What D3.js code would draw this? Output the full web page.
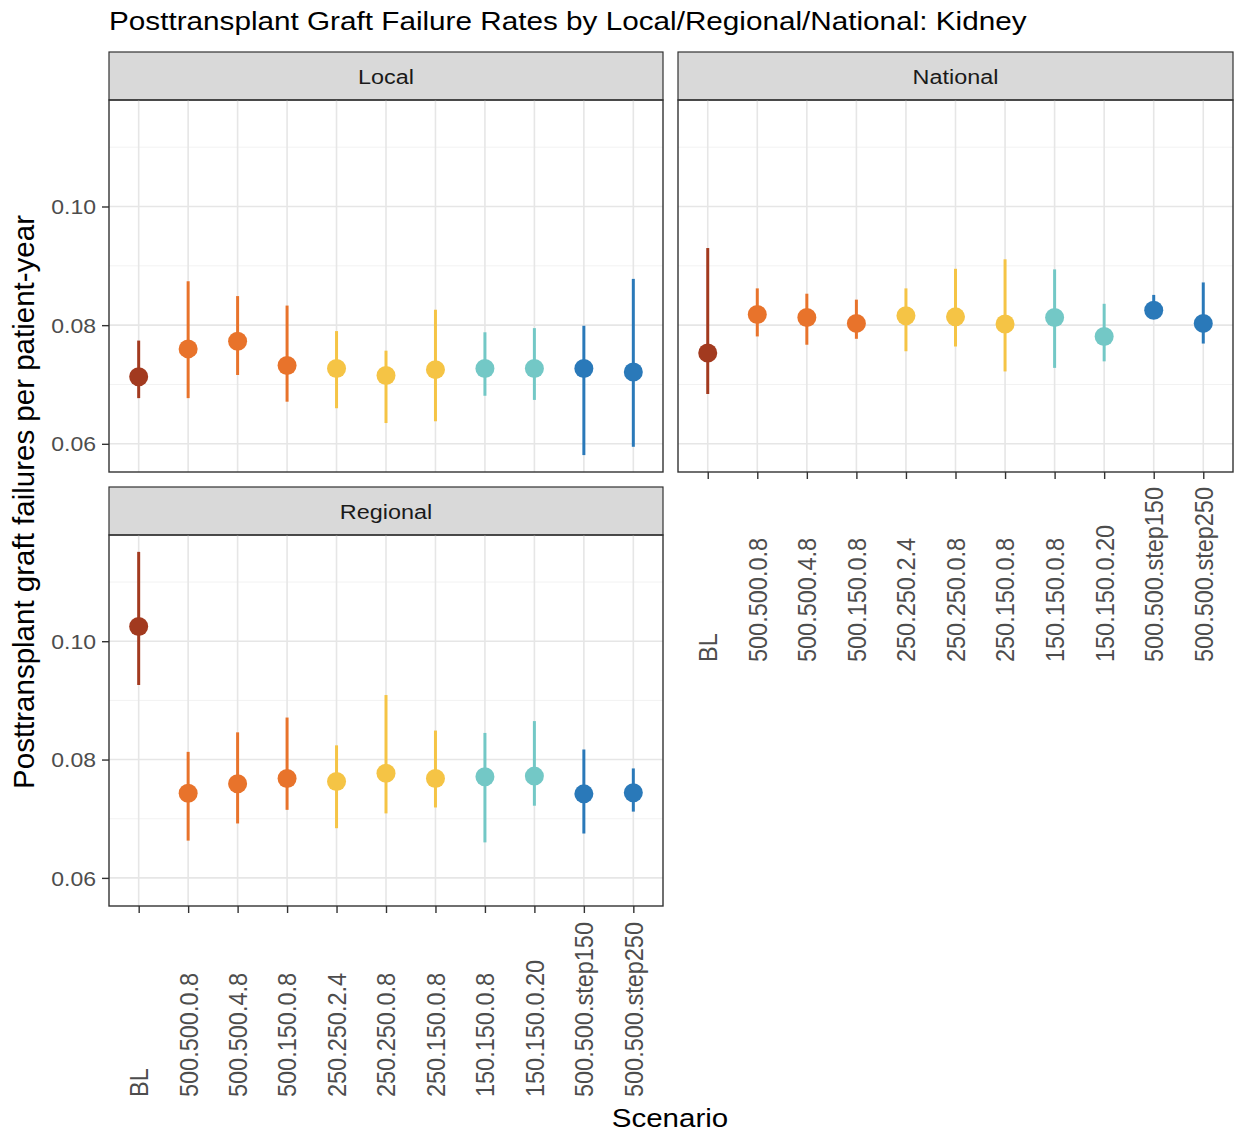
<!DOCTYPE html>
<html><head><meta charset="utf-8">
<script src="https://cdn.jsdelivr.net/npm/d3@7"></script>
<style>body{margin:0;background:#fff}svg{display:block}text{font-family:"Liberation Sans",Arial,sans-serif}</style>
</head><body>
<script>
const scenarios = ["BL","500.500.0.8","500.500.4.8","500.150.0.8","250.250.2.4","250.250.0.8","250.150.0.8","150.150.0.8","150.150.0.20","500.500.step150","500.500.step250"];
const groups = ["BL","500","500","500","250","250","250","150","150","step","step"];
const groupColors = {BL:"#a23a1f","500":"#e8732b","250":"#f5c445","150":"#73c8c6",step:"#2a79b9"};
const panels = ["Local","National","Regional"];
const localMean = [0.0713,0.0760,0.0773,0.0732,0.0727,0.0715,0.0725,0.0727,0.0727,0.0727,0.0721];
const localLow  = [0.0677,0.0677,0.0716,0.0671,0.0660,0.0635,0.0638,0.0681,0.0674,0.0581,0.0595];
const localHigh = [0.0774,0.0874,0.0849,0.0833,0.0790,0.0757,0.0826,0.0788,0.0795,0.0799,0.0878];
const nationalMean = [0.0753,0.0818,0.0813,0.0803,0.0816,0.0814,0.0802,0.0813,0.0781,0.0825,0.0803];
const nationalLow  = [0.0684,0.0781,0.0767,0.0777,0.0756,0.0764,0.0722,0.0728,0.0739,0.0812,0.0769];
const nationalHigh = [0.0930,0.0862,0.0853,0.0843,0.0862,0.0895,0.0911,0.0894,0.0836,0.0851,0.0872];
const regionalMean = [0.1025,0.0743,0.0759,0.0768,0.0763,0.0777,0.0768,0.0771,0.0772,0.0742,0.0744];
const regionalLow  = [0.0926,0.0663,0.0692,0.0715,0.0684,0.0709,0.0719,0.0660,0.0722,0.0675,0.0712];
const regionalHigh = [0.1151,0.0813,0.0846,0.0871,0.0824,0.0909,0.0849,0.0845,0.0865,0.0817,0.0785];
const yTicks = [0.06,0.08,0.10];
const yMinor = [0.07,0.09,0.11];
const titleText = "Posttransplant Graft Failure Rates by Local/Regional/National: Kidney";
const yTitle = "Posttransplant graft failures per patient-year";
const xTitle = "Scenario";

const data = {
  Local: scenarios.map((s,i)=>({s,g:groups[i],m:localMean[i],lo:localLow[i],hi:localHigh[i]})),
  National: scenarios.map((s,i)=>({s,g:groups[i],m:nationalMean[i],lo:nationalLow[i],hi:nationalHigh[i]})),
  Regional: scenarios.map((s,i)=>({s,g:groups[i],m:regionalMean[i],lo:regionalLow[i],hi:regionalHigh[i]}))
};

const W=1236,H=1133;
const SY=0.86;
const svg=d3.select("body").append("svg").attr("width",W).attr("height",H);

const layout = {
  Local:{x0:109,x1:663,y0:100,y1:472,showX:false,showY:true,labBottom:0},
  National:{x0:678,x1:1233,y0:100,y1:472,showX:true,showY:false,labBottom:662},
  Regional:{x0:109,x1:663,y0:535,y1:906,showX:true,showY:true,labBottom:1097}
};
const stripH=48;

const allLo=d3.min(panels,p=>d3.min(data[p],d=>d.lo));
const allHi=d3.max(panels,p=>d3.max(data[p],d=>d.hi));
const pad=(allHi-allLo)*0.05;
const yDomain=[allLo-pad,allHi+pad];

svg.append("text").attr("transform",`translate(109,29.5) scale(1,${SY})`).attr("font-size",29.7).attr("fill","#000").text(titleText);

panels.forEach(p=>{
  const L=layout[p];
  const x=d3.scalePoint().domain(scenarios).range([L.x0,L.x1]).padding(0.6);
  const y=d3.scaleLinear().domain(yDomain).range([L.y1,L.y0]);
  const g=svg.append("g");
  g.append("rect").attr("x",L.x0).attr("y",L.y0-stripH).attr("width",L.x1-L.x0).attr("height",stripH)
    .attr("fill","#d9d9d9").attr("stroke","#333").attr("stroke-width",1.2);
  g.append("text").attr("transform",`translate(${(L.x0+L.x1)/2},${L.y0-stripH/2+1}) scale(1,${SY})`).attr("dy","0.35em").attr("text-anchor","middle")
    .attr("font-size",23.4).attr("fill","#1a1a1a").text(p);
  g.selectAll(".minor").data(yMinor).join("line").attr("x1",L.x0).attr("x2",L.x1)
    .attr("y1",d=>y(d)).attr("y2",d=>y(d)).attr("stroke","#f2f2f2").attr("stroke-width",1);
  g.selectAll(".major").data(yTicks).join("line").attr("x1",L.x0).attr("x2",L.x1)
    .attr("y1",d=>y(d)).attr("y2",d=>y(d)).attr("stroke","#e6e6e6").attr("stroke-width",1.6);
  g.selectAll(".vg").data(scenarios).join("line").attr("x1",d=>x(d)).attr("x2",d=>x(d))
    .attr("y1",L.y0).attr("y2",L.y1).attr("stroke","#e6e6e6").attr("stroke-width",1.6);
  g.selectAll(".eb").data(data[p]).join("line").attr("x1",d=>x(d.s)).attr("x2",d=>x(d.s))
    .attr("y1",d=>y(d.lo)).attr("y2",d=>y(d.hi)).attr("stroke",d=>groupColors[d.g]).attr("stroke-width",3);
  g.selectAll(".pt").data(data[p]).join("circle").attr("cx",d=>x(d.s)).attr("cy",d=>y(d.m)).attr("r",9.5)
    .attr("fill",d=>groupColors[d.g]);
  g.append("rect").attr("x",L.x0).attr("y",L.y0).attr("width",L.x1-L.x0).attr("height",L.y1-L.y0)
    .attr("fill","none").attr("stroke","#333").attr("stroke-width",1.4);
  if(L.showY){
    const ax=g.append("g").attr("transform",`translate(${L.x0},0)`)
      .call(d3.axisLeft(y).tickValues(yTicks).tickFormat(d3.format(".2f")).tickSize(7).tickPadding(6));
    ax.select(".domain").remove();
    ax.selectAll("line").attr("stroke","#333").attr("stroke-width",1.4);
    ax.selectAll("text").attr("font-size",23).attr("fill","#4d4d4d").attr("dy","0.36em")
      .attr("transform",`scale(1,${SY})`).style("font-family","Liberation Sans, Arial, sans-serif");
  }
  if(L.showX){
    const ax=g.append("g").attr("transform",`translate(0,${L.y1})`)
      .call(d3.axisBottom(x).tickSize(7));
    ax.select(".domain").remove();
    ax.selectAll("line").attr("stroke","#333").attr("stroke-width",1.4);
    ax.selectAll("text").attr("font-size",23.5).attr("fill","#4d4d4d").style("font-family","Liberation Sans, Arial, sans-serif")
      .attr("text-anchor","start").attr("dy","0.35em")
      .attr("transform",`translate(0,${L.labBottom-L.y1}) rotate(-90) scale(1,1.08)`).attr("x",0).attr("y",0);
  }
});

svg.append("text").attr("transform",`translate(33.5,502) rotate(-90)`).attr("text-anchor","middle")
  .attr("font-size",29.5).attr("fill","#000").text(yTitle);
svg.append("text").attr("transform",`translate(670,1127) scale(1,${SY})`).attr("text-anchor","middle")
  .attr("font-size",29.5).attr("fill","#000").text(xTitle);
</script>
</body></html>
